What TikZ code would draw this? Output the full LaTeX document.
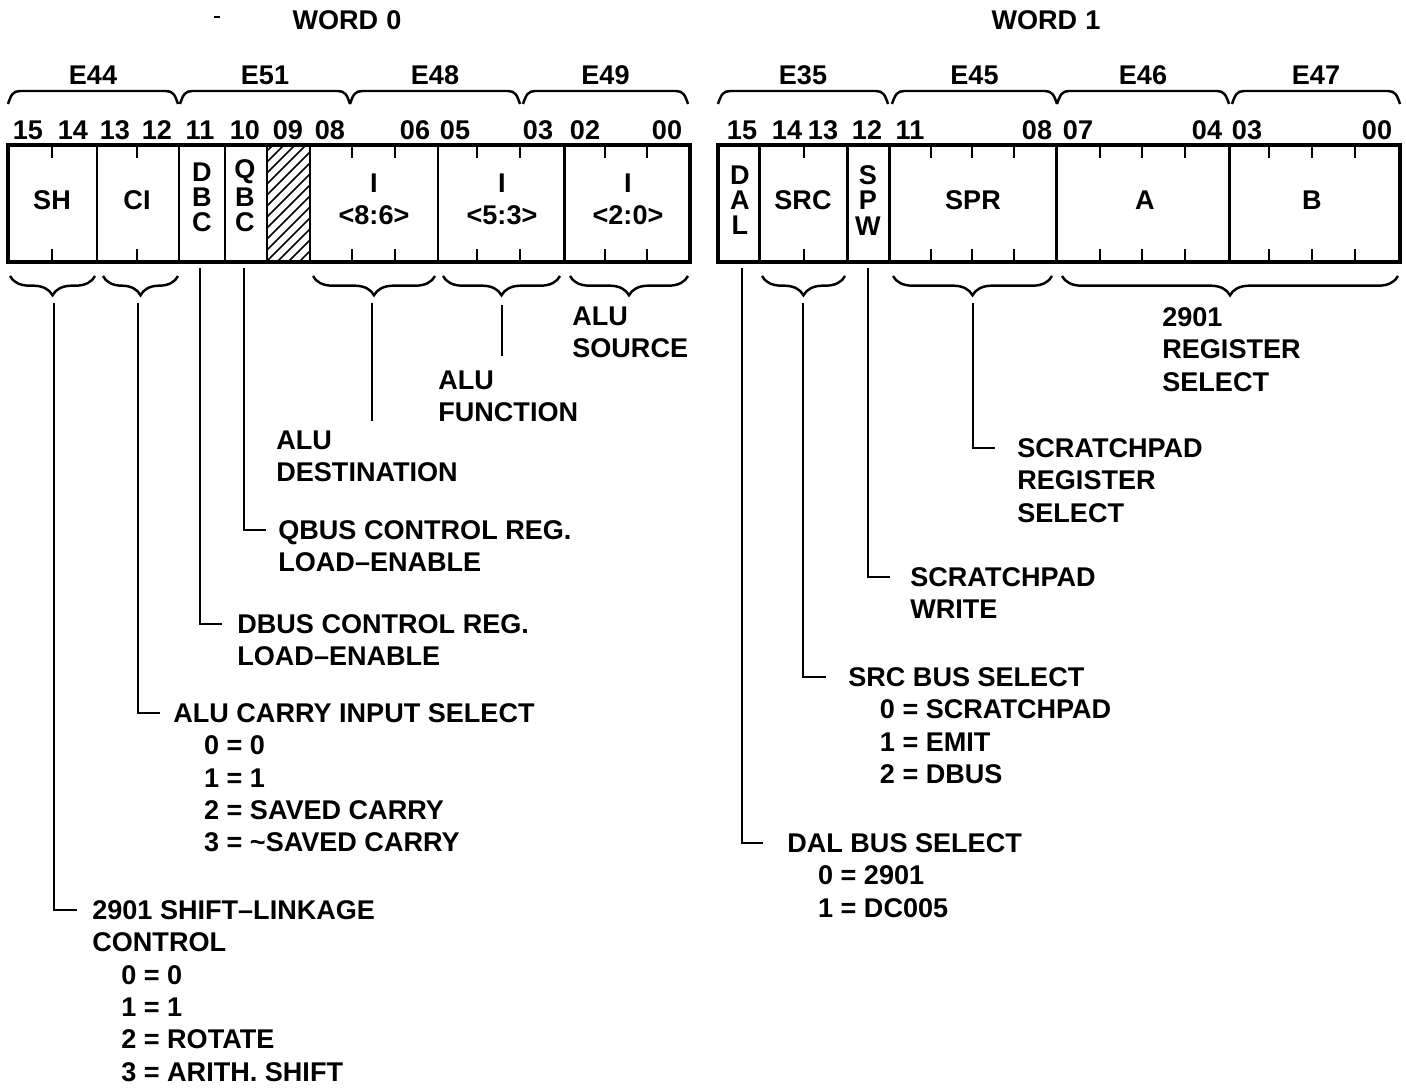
\documentclass[tikz,border=0pt]{standalone}
\usepackage{fontspec}
\setmainfont{Liberation Sans}
\usetikzlibrary{decorations.pathreplacing,calc}
\newcommand\tld{\textasciitilde}
\begin{document}
\begin{tikzpicture}[x=0.02cm,y=-0.02cm,
  txt/.style={inner sep=0pt, font=\fontsize{15.4}{18.4}\selectfont\bfseries},
  lbl/.style={txt, anchor=north west, align=left},
  hd/.style={txt, anchor=center},
  outerbox/.style={line width=2.4pt},
  divl/.style={line width=1.7pt},
  tickl/.style={line width=1.4pt},
  ubrace/.style={line width=1.4pt},
  dbrace/.style={line width=1.4pt, decorate, decoration={brace, amplitude=11pt}},
  lead/.style={line width=1.5pt},
  hatchl/.style={line width=0.9pt},
]
\fill[white] (0,0) rectangle (1406,1089);
\useasboundingbox (0,0) rectangle (1406,1089);

% titles
\node[hd] (w0) at (347,20) {WORD\hspace{0.3em}0};
\node[hd] (w1) at (1046,20) {WORD\hspace{0.3em}1};
\draw[line width=0.8pt] (214,17) -- (220,17);

% top braces
\newcommand\topbrace[4]{%
  \draw[ubrace] (#1,104) .. controls (#1+3,95) and (#1+5,91) .. (#1+12,91) -- (#2-12,91) .. controls (#2-5,91) and (#2-3,95) .. (#2,104);
  \node[hd] (#4) at ({(#1+#2)/2},75) {#3};}
\topbrace{8}{178}{E44}{e44}
\topbrace{180}{350}{E51}{e51}
\topbrace{350}{520}{E48}{e48}
\topbrace{523}{688}{E49}{e49}
\topbrace{718}{888}{E35}{e35}
\topbrace{892}{1057}{E45}{e45}
\topbrace{1057}{1229}{E46}{e46}
\topbrace{1232}{1400}{E47}{e47}

% bit numbers
\foreach \x/\t in {28/15,73/14,115/13,157/12,200/11,245/10,288/09,330/08,415/06,455/05,538/03,585/02,667/00}
  \node[hd] (wa\t) at (\x,130) {\t};
\foreach \x/\t in {742/15,787/14,823/13,867/12,910/11,1037/08,1078/07,1207/04,1247/03,1377/00}
  \node[hd] (wb\t) at (\x,130) {\t};

% hatch
\begin{scope}
  \clip (267,145) rectangle (310,262);
  \foreach \c in {140,151,...,320} \draw[hatchl] (267,\c) -- (310,\c-43);
\end{scope}

% word 0 box
\foreach \x in {97,179,225,267,310,438,564} \draw[divl] (\x,145) -- (\x,262);
\draw[outerbox] (8,145) rectangle (690,262);
\foreach \x in {52,137,352,395,477,520,605,647} {
  \draw[tickl] (\x,145) -- (\x,158);
  \draw[tickl] (\x,262) -- (\x,249);}
% word 1 box
\foreach \x in {759,847,889,1056,1229} \draw[divl] (\x,145) -- (\x,262);
\draw[outerbox] (718,145) rectangle (1400,262);
\foreach \x in {804,931,972,1014,1100,1142,1185,1269,1312,1355} {
  \draw[tickl] (\x,145) -- (\x,158);
  \draw[tickl] (\x,262) -- (\x,249);}

% field labels
\node[hd] (fSH) at (52,200) {SH};
\node[hd] (fCI) at (137,200) {CI};
\node[hd] (fDBCa) at (202,172) {D};
\node[hd] (fDBCb) at (202,197) {B};
\node[hd] (fDBCc) at (202,222) {C};
\node[hd] (fQBCa) at (245,172) {Q};
\node[hd] (fQBCb) at (245,197) {B};
\node[hd] (fQBCc) at (245,222) {C};
\node[hd] (fI86a) at (374,183) {I};
\node[hd] (fI86b) at (374,215) {<8:6>};
\node[hd] (fI53a) at (502,183) {I};
\node[hd] (fI53b) at (502,215) {<5:3>};
\node[hd] (fI20a) at (628,183) {I};
\node[hd] (fI20b) at (628,215) {<2:0>};
\node[hd] (fDALa) at (740,175) {D};
\node[hd] (fDALb) at (740,200) {A};
\node[hd] (fDALc) at (740,225) {L};
\node[hd] (fSRC) at (803,200) {SRC};
\node[hd] (fSPWa) at (868,175) {S};
\node[hd] (fSPWb) at (868,200) {P};
\node[hd] (fSPWc) at (868,226) {W};
\node[hd] (fSPR) at (973,200) {SPR};
\node[hd] (fA) at (1145,200) {A};
\node[hd] (fB) at (1312,200) {B};

% lower braces
\draw[dbrace] (95,276) -- (10,276);
\draw[dbrace] (178,276) -- (103,276);
\draw[dbrace] (435,276) -- (313,276);
\draw[dbrace] (560,276) -- (443,276);
\draw[dbrace] (688,276) -- (570,276);
\draw[dbrace] (845,276) -- (762,276);
\draw[dbrace] (1052,276) -- (893,276);
\draw[dbrace] (1398,276) -- (1062,276);

% brace tips / leader starts
\coordinate (tSH) at (54,303);
\coordinate (tCI) at (138,303);
\coordinate (tDBC) at (200,268);
\coordinate (tQBC) at (244,268);
\coordinate (tI86) at (372,303);
\coordinate (eI86) at (372,421);
\coordinate (tI53) at (502,305);
\coordinate (eI53) at (502,356);
\coordinate (tDAL) at (742,268);
\coordinate (tSRC) at (803,303);
\coordinate (tSPW) at (868,268);
\coordinate (tSPR) at (973,303);

% labels
\node[lbl] (alusrc) at (572,306.2) {ALU\\SOURCE};
\node[lbl] (alufn) at (438,370.2) {ALU\\FUNCTION};
\node[lbl] (aludst) at (276,430.2) {ALU\\DESTINATION};
\node[lbl] (qbus) at (278,520.2) {QBUS CONTROL REG.\\LOAD\textendash ENABLE};
\node[lbl] (dbus) at (237,614.2) {DBUS CONTROL REG.\\LOAD\textendash ENABLE};
\node[lbl] (carry) at (173,703.2) {ALU CARRY INPUT SELECT\\
  \hspace*{17.5pt}0 = 0\\
  \hspace*{17.5pt}1 = 1\\
  \hspace*{17.5pt}2 = SAVED CARRY\\
  \hspace*{17.5pt}3 = \tld SAVED CARRY};
\node[lbl] (shift) at (92,900.2) {2901 SHIFT\textendash LINKAGE\\
  CONTROL\\
  \hspace*{16.5pt}0 = 0\\
  \hspace*{16.5pt}1 = 1\\
  \hspace*{16.5pt}2 = ROTATE\\
  \hspace*{16.5pt}3 = ARITH. SHIFT};
\node[lbl] (regsel) at (1162,307.2) {2901\\REGISTER\\SELECT};
\node[lbl] (spsel) at (1017,438.2) {SCRATCHPAD\\REGISTER\\SELECT};
\node[lbl] (spw) at (910,567.2) {SCRATCHPAD\\WRITE};
\node[lbl] (srcsel) at (848,667.2) {SRC BUS SELECT\\
  \hspace*{18pt}0 = SCRATCHPAD\\
  \hspace*{18pt}1 = EMIT\\
  \hspace*{18pt}2 = DBUS};
\node[lbl] (dalsel) at (787,833.2) {DAL BUS SELECT\\
  \hspace*{17.5pt}0 = 2901\\
  \hspace*{17.5pt}1 = DC005};

% leaders
\draw[lead] (tSH) |- ($(shift.north west)+(-15,9.8)$);
\draw[lead] (tCI) |- ($(carry.north west)+(-13,9.8)$);
\draw[lead] (tDBC) |- ($(dbus.north west)+(-15,9.8)$);
\draw[lead] (tQBC) |- ($(qbus.north west)+(-12,9.8)$);
\draw[lead] (tI86) -- (eI86);
\draw[lead] (tI53) -- (eI53);
\draw[lead] (tDAL) |- ($(dalsel.north west)+(-24,9.8)$);
\draw[lead] (tSRC) |- ($(srcsel.north west)+(-22,9.8)$);
\draw[lead] (tSPW) |- ($(spw.north west)+(-20,9.8)$);
\draw[lead] (tSPR) |- ($(spsel.north west)+(-22,9.8)$);
\end{tikzpicture}
\end{document}
